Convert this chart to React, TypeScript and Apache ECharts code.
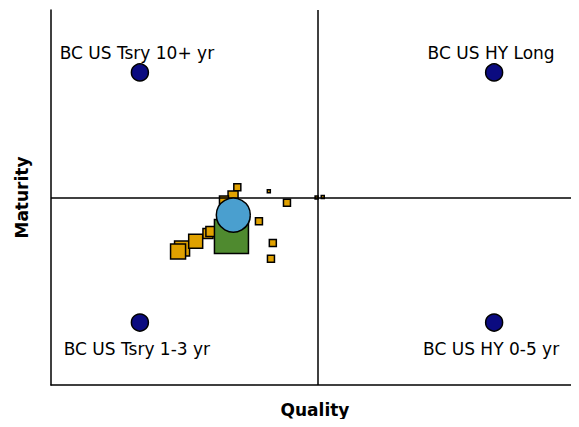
import React, { useEffect, useRef } from "react";
import * as echarts from "echarts";

// Benchmark corner points: [quality, maturity]
const benchmarkNames = ["BC US Tsry 10+ yr", "BC US HY Long", "BC US Tsry 1-3 yr", "BC US HY 0-5 yr"];
const benchmarkPoints: number[][] = [
  [-0.667, 0.667],
  [0.66, 0.667],
  [-0.667, -0.667],
  [0.66, -0.667],
];

// Holdings: [quality, maturity, size]
const holdings: number[][] = [
  [-0.302, 0.055, 7],
  [-0.318, 0.008, 10],
  [-0.352, -0.016, 9],
  [-0.509, -0.272, 15],
  [-0.524, -0.288, 15],
  [-0.458, -0.233, 14],
  [-0.412, -0.192, 10],
  [-0.401, -0.181, 10],
  [-0.221, -0.126, 7],
  [-0.169, -0.242, 7],
  [-0.176, -0.327, 7],
  [-0.116, -0.028, 7],
  [-0.184, 0.034, 3],
  [-0.005, 0.0, 3],
  [0.018, 0.003, 3],
];

// Aggregate portfolio and benchmark: [quality, maturity, size]
const portfolio: number[][] = [[-0.324, -0.208, 34]];
const portfolioAvg: number[][] = [[-0.317, -0.094, 34]];

const xRange = [-1, 0.978];
const yRange = [-1, 1];

const FONT = "DejaVu Sans";

export default function App() {
  const ref = useRef<HTMLDivElement>(null);
  useEffect(() => {
    if (!ref.current) return;
    const chart = echarts.init(ref.current, undefined, { renderer: "svg" });
    const border = { borderColor: "#000", borderWidth: 1.5, opacity: 1 };
    const topPts = benchmarkPoints.slice(0, 2).map((p, i) => ({ value: p, name: benchmarkNames[i] }));
    const botPts = benchmarkPoints.slice(2).map((p, i) => ({ value: p, name: benchmarkNames[i + 2] }));
    const labelBase = {
      show: true,
      formatter: "{b}",
      fontFamily: FONT,
      fontSize: 17,
      color: "#000",
      offset: [-3, 0],
    };
    const axisBase = {
      type: "value",
      nameLocation: "middle",
      nameTextStyle: { fontFamily: FONT, fontSize: 17, fontWeight: "bold", color: "#000" },
      axisLine: { show: true, onZero: false, lineStyle: { color: "#000", width: 1.5 } },
      axisTick: { show: false },
      axisLabel: { show: false },
      splitLine: { show: false },
    };
    chart.setOption({
      animation: false,
      grid: { left: 51, top: 10, right: 0, height: 375 },
      xAxis: { ...axisBase, min: xRange[0], max: xRange[1], name: "Quality", nameGap: 16 },
      yAxis: { ...axisBase, min: yRange[0], max: yRange[1], name: "Maturity", nameGap: 21 },
      series: [
        {
          type: "scatter",
          data: topPts,
          symbol: "circle",
          symbolSize: 17,
          itemStyle: { color: "#0b0b80", ...border },
          label: { ...labelBase, position: "top", distance: 2 },
          markLine: {
            silent: true,
            symbol: "none",
            label: { show: false },
            lineStyle: { color: "#000", width: 1.5, type: "solid", opacity: 1 },
            data: [{ xAxis: 0 }, { yAxis: 0 }],
          },
          z: 3,
        },
        {
          type: "scatter",
          data: botPts,
          symbol: "circle",
          symbolSize: 17,
          itemStyle: { color: "#0b0b80", ...border },
          label: { ...labelBase, position: "bottom", distance: 9 },
          z: 3,
        },
        {
          type: "scatter",
          data: holdings,
          symbol: "rect",
          symbolSize: (d: number[]) => d[2],
          itemStyle: { color: "#e0a100", ...border },
          z: 4,
        },
        {
          type: "scatter",
          data: portfolio,
          symbol: "rect",
          symbolSize: (d: number[]) => d[2],
          itemStyle: { color: "#4f8a2f", ...border },
          z: 5,
        },
        {
          type: "scatter",
          data: portfolioAvg,
          symbol: "circle",
          symbolSize: (d: number[]) => d[2],
          itemStyle: { color: "#4a9fcf", ...border },
          z: 6,
        },
      ],
    });
    return () => chart.dispose();
  }, []);
  return <div ref={ref} style={{ width: 579, height: 427, margin: -8 }} />;
}
